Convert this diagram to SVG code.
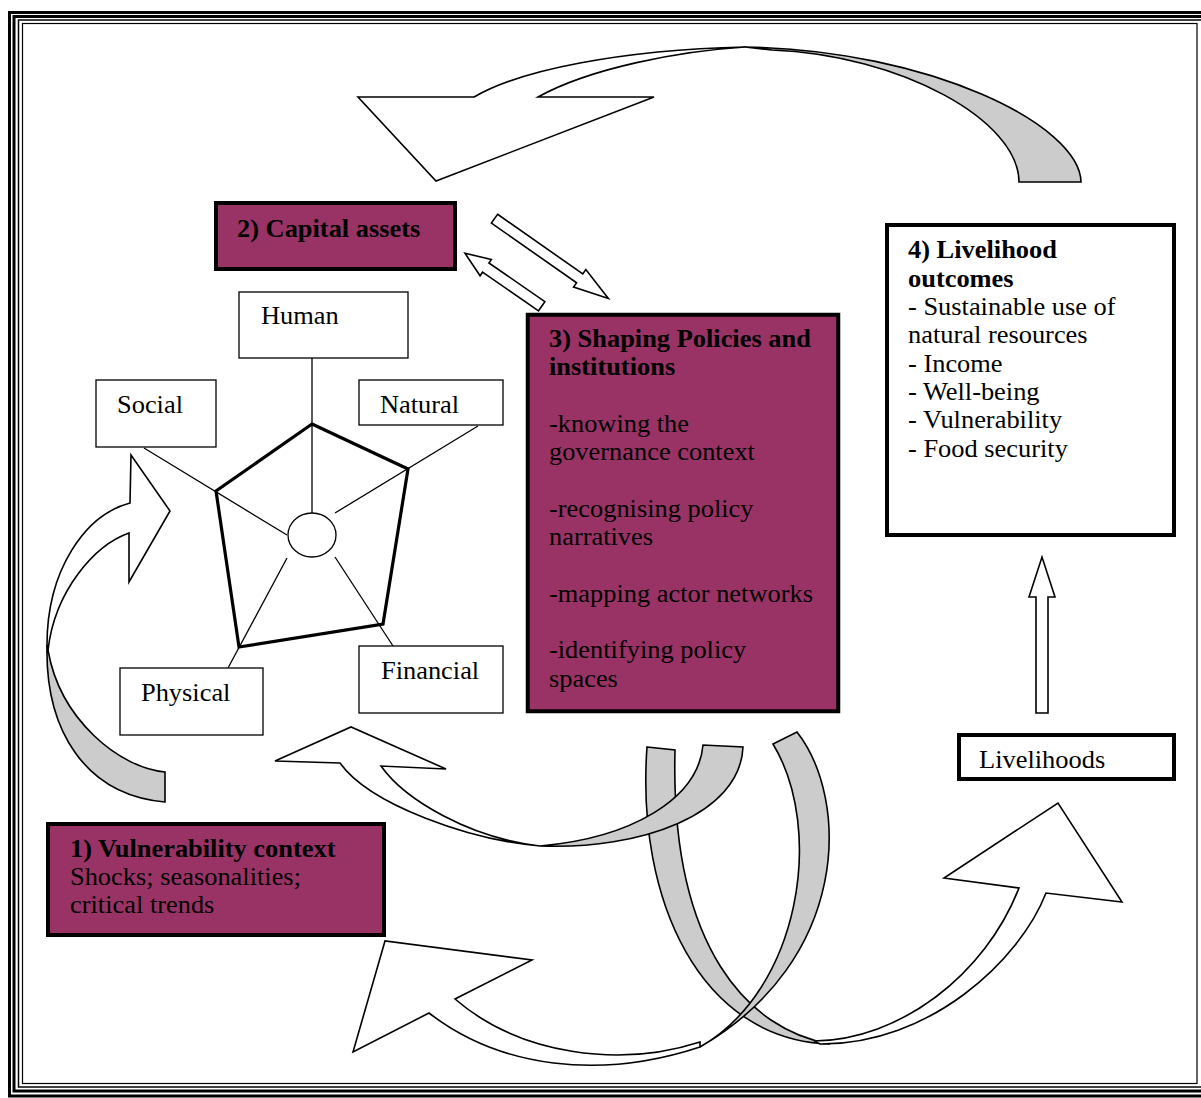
<svg xmlns="http://www.w3.org/2000/svg" width="1201" height="1098" viewBox="0 0 1201 1098">
<style>
.t{font-family:"Liberation Serif","Times New Roman",serif;font-size:24.8px;fill:#000}
.b{font-weight:bold}
.plum{fill:#993366;stroke:#000;stroke-width:4}
.lbl{fill:#fff;stroke:#000;stroke-width:1.3}
.fr{fill:none;stroke:#000}
.w{fill:#fff;stroke:#000;stroke-width:1.6;stroke-linejoin:miter}
.g{fill:#ccc;stroke:#000;stroke-width:1.6;stroke-linejoin:miter}
.sp{stroke:#000;stroke-width:1.3;fill:none}
</style>
<rect width="1201" height="1098" fill="#fff"/>
<g id="frame">
<rect class="fr" x="9.5" y="12.5" width="1200" height="1083.5" stroke-width="3"/>
<rect class="fr" x="14" y="16.5" width="1200" height="1074.5" stroke-width="3"/>
<rect class="fr" x="18.5" y="20" width="1200" height="1067" stroke-width="1.5"/>
<rect class="fr" x="22.5" y="23.5" width="1174.5" height="1060" stroke-width="1.2" stroke="#333"/>
</g>
<g id="connectors">
<g id="top-arrow">
<path class="g" d="M745,47 C930,50 1080,125 1081,182 L1019,182 C1019,120 900,55 772,50 Z"/>
<path class="w" d="M358,97 L474,97 C520,70 620,50 745,47 C680,51 590,68 538,97 L654,97 L436,181 Z"/>
</g>
<g id="left-arrow">
<path class="g" d="M47,645 C45,730 85,795 165,802 L165,772 C120,768 60,720 48,650 Z"/>
<path class="w" d="M47,645 C47,570 85,515 130,503 L131,455 L170,511 L129,582 L129,533 C95,545 55,590 48,650 Z"/>
</g>
<g id="arrow-to-livelihoods">
<path class="g" d="M647,747 L675,750 C670,950 750,1030 830,1044 C700,1040 636,900 647,747 Z"/>
<path class="w" d="M814,1041 C900,1040 985,975 1019,888 L944,878 L1058,803 L1122,902 L1046,893 C1020,960 930,1045 820,1044 Z"/>
</g>
<g id="arrow-to-assets">
<path class="g" d="M703,745 C698,800 630,838 540,846 C640,850 740,815 743,747 Z"/>
<path class="w" d="M540,846 C470,840 370,805 340,763 L275,761 L351,727 L446,769 L381,766 C405,800 470,838 540,846 Z"/>
</g>
<g id="arrow-to-vulnerability">
<path class="g" d="M773,744 L797,732 C850,800 850,960 700,1047 C800,990 825,830 773,744 Z"/>
<path class="w" d="M700,1042 C620,1068 520,1055 455,999 L532,960 L385,941 L353,1052 L429,1013 C500,1068 600,1080 700,1047 Z"/>
</g>
<polygon class="w" transform="translate(494.5,218.7) rotate(35)" points="0,-5.4 104,-5.4 104,-10.7 139,0 104,10.7 104,5.4 0,5.4"/>
<polygon class="w" transform="translate(541.7,306.2) rotate(214.6)" points="0,-5.6 68,-5.6 68,-9.9 93.2,0 68,9.9 68,5.6 0,5.6"/>
<polygon class="w" points="1036,713 1036,597 1029,597 1042,557 1055,597 1048,597 1048,713"/>
</g>
<g id="pentagon">
<line class="sp" x1="312" y1="358" x2="312" y2="513"/>
<line class="sp" x1="144" y1="448" x2="287" y2="535"/>
<line class="sp" x1="478" y1="426" x2="335" y2="513"/>
<line class="sp" x1="393" y1="646" x2="335" y2="557"/>
<line class="sp" x1="228" y1="668" x2="287" y2="558"/>
<polygon points="312,424 408,469 383,624 239,647 216,491" fill="none" stroke="#000" stroke-width="3.2" stroke-linejoin="miter"/>
<ellipse cx="312" cy="535" rx="24" ry="22" fill="#fff" stroke="#000" stroke-width="1.3"/>
</g>
<g id="human"><rect class="lbl" x="239" y="292" width="169" height="66"/><g transform="matrix(1.065 0 0 1 -16.97 0)"><text class="t" x="261" y="324">Human</text></g></g>
<g id="social"><rect class="lbl" x="96" y="380" width="120" height="67"/><g transform="matrix(1.065 0 0 1 -7.6 0)"><text class="t" x="117" y="413">Social</text></g></g>
<g id="natural"><rect class="lbl" x="359" y="380" width="144" height="45"/><g transform="matrix(1.065 0 0 1 -24.7 0)"><text class="t" x="380" y="413">Natural</text></g></g>
<g id="physical"><rect class="lbl" x="120" y="668" width="143" height="67"/><g transform="matrix(1.065 0 0 1 -9.17 0)"><text class="t" x="141" y="701">Physical</text></g></g>
<g id="financial"><rect class="lbl" x="359" y="646" width="144" height="67"/><g transform="matrix(1.065 0 0 1 -24.8 0)"><text class="t" x="381" y="679">Financial</text></g></g>
<g id="capital-assets">
<rect class="plum" x="216" y="203" width="239" height="66"/>
<g transform="matrix(1.065 0 0 1 -15.4 0)"><text class="t b" x="237" y="237">2) Capital assets</text></g>
</g>
<g id="policies">
<rect class="plum" x="527.75" y="314.75" width="310.5" height="396.5" stroke-width="3.5"/>
<g transform="matrix(1.065 0 0 1 -35.7 0)">
<text class="t b" x="549" y="347">3) Shaping Policies and</text>
<text class="t b" x="549" y="375">institutions</text>
<text class="t" x="549" y="432">-knowing the</text>
<text class="t" x="549" y="460">governance context</text>
<text class="t" x="549" y="517">-recognising policy</text>
<text class="t" x="549" y="545">narratives</text>
<text class="t" x="549" y="602">-mapping actor networks</text>
<text class="t" x="549" y="658">-identifying policy</text>
<text class="t" x="549" y="687">spaces</text>
</g>
</g>
<g id="outcomes">
<rect x="887" y="225" width="287" height="310" fill="#fff" stroke="#000" stroke-width="4"/>
<g transform="matrix(1.065 0 0 1 -59.0 0)">
<text class="t b" x="908" y="258">4) Livelihood</text>
<text class="t b" x="908" y="287">outcomes</text>
<text class="t" x="908" y="315">- Sustainable use of</text>
<text class="t" x="908" y="343">natural resources</text>
<text class="t" x="908" y="372">- Income</text>
<text class="t" x="908" y="400">- Well-being</text>
<text class="t" x="908" y="428">- Vulnerability</text>
<text class="t" x="908" y="457">- Food security</text>
</g>
</g>
<g id="livelihoods">
<rect x="959" y="735" width="215" height="44" fill="#fff" stroke="#000" stroke-width="4"/>
<g transform="matrix(1.065 0 0 1 -63.6 0)"><text class="t" x="979" y="768">Livelihoods</text></g>
</g>
<g id="vulnerability">
<rect class="plum" x="48" y="824" width="336" height="111"/>
<g transform="matrix(1.065 0 0 1 -4.55 0)">
<text class="t b" x="70" y="857">1) Vulnerability context</text>
<text class="t" x="70" y="885">Shocks; seasonalities;</text>
<text class="t" x="70" y="913">critical trends</text>
</g>
</g>
</svg>
